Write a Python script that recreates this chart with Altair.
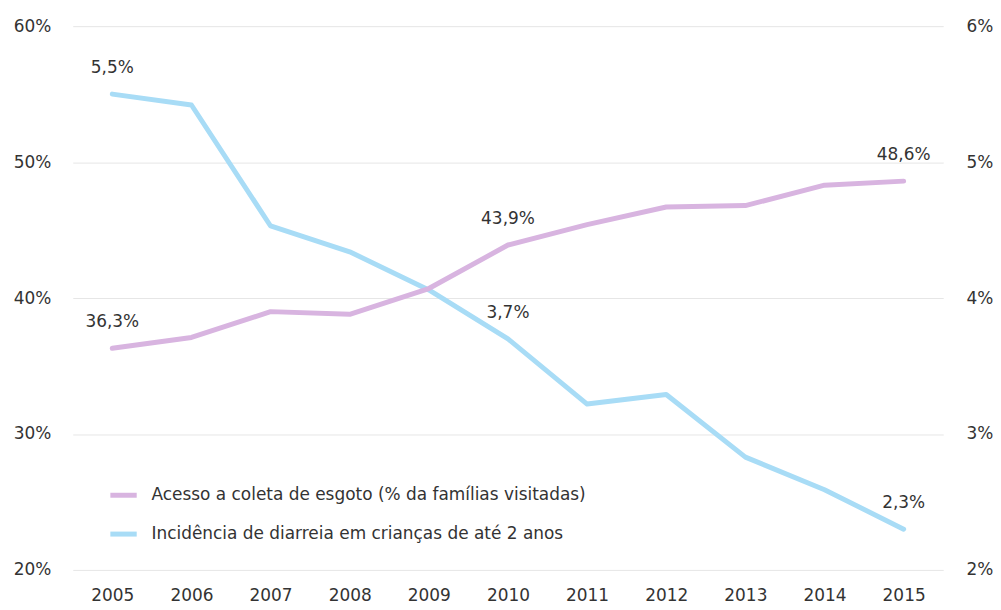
import altair as alt
import pandas as pd

years = [2005, 2006, 2007, 2008, 2009, 2010, 2011, 2012, 2013, 2014, 2015]
esgoto = [36.3, 37.1, 39.0, 38.8, 40.7, 43.9, 45.4, 46.7, 46.8, 48.3, 48.6]
diarreia = [5.5, 5.42, 4.53, 4.34, 4.06, 3.7, 3.22, 3.29, 2.83, 2.59, 2.3]
labeled_years = [2005, 2010, 2015]

s1 = "Acesso a coleta de esgoto (% da famílias visitadas)"
s2 = "Incidência de diarreia em crianças de até 2 anos"

def fmt(v):
    return f"{v:.1f}".replace(".", ",") + "%"

df1 = pd.DataFrame({"ano": years, "v": esgoto, "serie": s1,
                    "lab": [fmt(v) if y in labeled_years else "" for y, v in zip(years, esgoto)]})
df2 = pd.DataFrame({"ano": years, "v": diarreia, "serie": s2,
                    "lab": [fmt(v) if y in labeled_years else "" for y, v in zip(years, diarreia)]})

FONT = "DejaVu Sans"
TXT = "#333333"
FS = 17

color = alt.Color("serie:N",
                  scale=alt.Scale(domain=[s1, s2], range=["#d8b4e0", "#a8dcf6"]),
                  legend=alt.Legend(title=None, orient="none", legendX=35, legendY=455,
                                    symbolType="stroke", symbolStrokeWidth=5, symbolSize=700,
                                    labelFontSize=FS, labelFont=FONT, labelColor=TXT,
                                    labelLimit=0, rowPadding=13, labelOffset=12))

xenc = alt.X("ano:O", title=None,
             scale=alt.Scale(type="point", padding=0.5),
             axis=alt.Axis(labelAngle=0, domain=False, ticks=False, grid=False,
                           labelFontSize=FS, labelFont=FONT, labelColor=TXT, labelPadding=18))

yleft = alt.Y("v:Q", title=None, scale=alt.Scale(domain=[20, 60], nice=False),
              axis=alt.Axis(values=[20, 30, 40, 50, 60], labelExpr="datum.value + '%'",
                            domain=False, ticks=False, grid=True, gridColor="#e6e6e6",
                            labelFontSize=FS, labelFont=FONT, labelColor=TXT, labelPadding=22))
yright = alt.Y("v:Q", title=None, scale=alt.Scale(domain=[2, 6], nice=False),
               axis=alt.Axis(orient="right", values=[2, 3, 4, 5, 6], labelExpr="datum.value + '%'",
                             domain=False, ticks=False, grid=False,
                             labelFontSize=FS, labelFont=FONT, labelColor=TXT, labelPadding=23))

b1 = alt.Chart(df1)
b2 = alt.Chart(df2)

left = alt.layer(
    b1.mark_line(strokeWidth=5, strokeCap="round", strokeJoin="round").encode(x=xenc, y=yleft, color=color),
    b1.mark_text(dy=-26, fontSize=FS, font=FONT, color=TXT).encode(x=xenc, y=yleft, text="lab:N"),
)
right = alt.layer(
    b2.mark_line(strokeWidth=5, strokeCap="round", strokeJoin="round").encode(x=xenc, y=yright, color=color),
    b2.mark_text(dy=-26, fontSize=FS, font=FONT, color=TXT).encode(x=xenc, y=yright, text="lab:N"),
)

chart = alt.layer(right, left).resolve_scale(y="independent").properties(
    width=874, height=546,
    autosize=alt.AutoSizeParams(type="none"),
    padding={"left": 65, "top": 17, "right": 50, "bottom": 37},
).configure_view(stroke=None)

chart.save("out.html", embed_options={"renderer": "svg", "actions": False})
